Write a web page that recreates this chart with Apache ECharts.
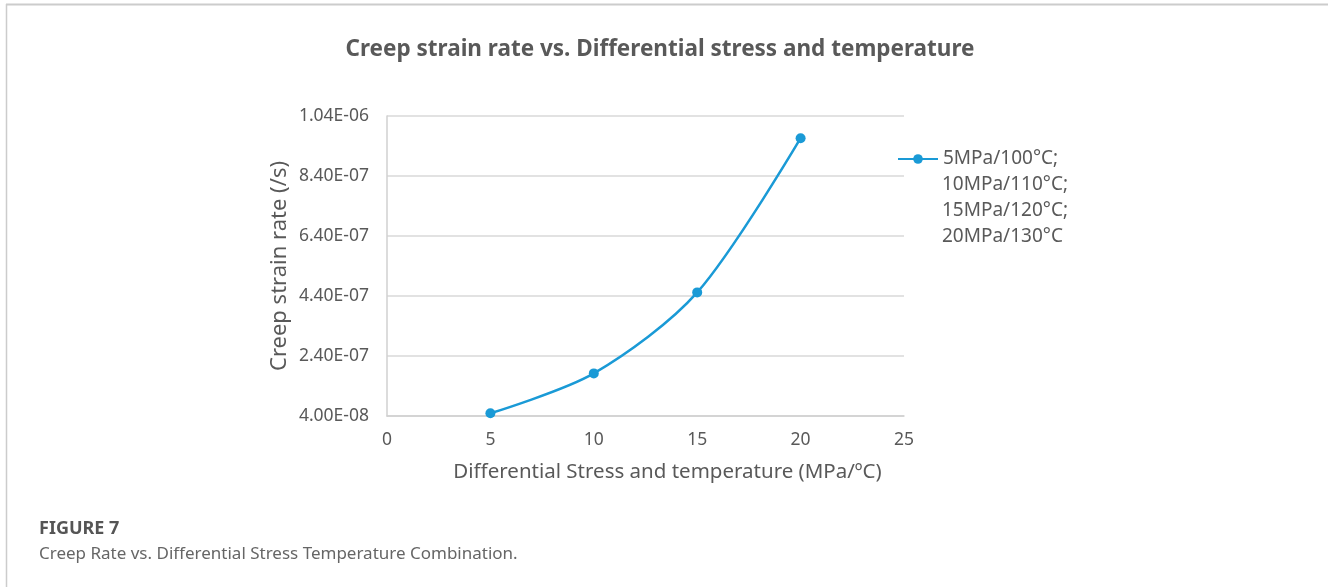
<!DOCTYPE html>
<html>
<head>
<meta charset="utf-8">
<script src="https://cdn.jsdelivr.net/npm/echarts@6/dist/echarts.min.js"></script>
<style>
  html, body { margin: 0; padding: 0; background: #fff; }
  #chart { width: 1328px; height: 587px; }
</style>
</head>
<body>
<div id="chart"></div>
<script>
// ---- data ----
const xValues = [5, 10, 15, 20];
const creepRate = [4.9e-8, 1.82e-7, 4.52e-7, 9.66e-7];
const seriesNameLines = ['5MPa/100°C;', '10MPa/110°C;', '15MPa/120°C;', '20MPa/130°C'];
const seriesName = seriesNameLines.join('\n');
const chartTitle = 'Creep strain rate vs. Differential stress and temperature';
const xAxisTitle = 'Differential Stress and temperature (MPa/ºC)';
const yAxisTitle = 'Creep strain rate (/s)';
const figureLabel = 'FIGURE 7';
const figureCaption = 'Creep Rate vs. Differential Stress Temperature Combination.';
const yMin = 4e-8, yMax = 1.04e-6, yStep = 2e-7;
const xMin = 0, xMax = 25, xStep = 5;

function fmtExp(v) {
  const s = Number(v).toExponential(2).toUpperCase();
  const m = s.match(/^(-?[\d.]+)E([+-])(\d+)$/);
  if (!m) return s;
  const exp = m[3].length < 2 ? '0' + m[3] : m[3];
  return m[1] + 'E' + (m[2] === '-' ? '-' : '+') + exp;
}

const FONT = 'Noto Sans';
const TXT = '#595959';
const LINE = '#1a9ad6';

const chart = echarts.init(document.getElementById('chart'), null, { renderer: 'canvas' });
chart.setOption({
  backgroundColor: '#fff',
  animation: false,
  title: [
    { text: chartTitle, left: 655, top: 33, textAlign: 'center',
      textStyle: { fontFamily: FONT, fontSize: 22.5, fontWeight: 'bold', color: TXT } },
    { text: figureLabel, left: 34, top: 515,
      textStyle: { fontFamily: FONT, fontSize: 18, fontWeight: 'bold', color: '#555' } },
    { text: figureCaption, left: 34, top: 541,
      textStyle: { fontFamily: FONT, fontSize: 17, fontWeight: 'normal', color: '#666' } }
  ],
  graphic: [
    { type: 'line', shape: { x1: 6, y1: 4.5, x2: 1328, y2: 4.5 }, style: { stroke: '#cccccc', lineWidth: 2 } },
    { type: 'line', shape: { x1: 6.5, y1: 4, x2: 6.5, y2: 587 }, style: { stroke: '#cccccc', lineWidth: 1.5 } },
    { type: 'text', left: 942, top: 172,
      style: { text: seriesNameLines.slice(1).join('\n'), fontFamily: FONT, fontSize: 19,
               lineHeight: 26, fill: TXT } }
  ],
  legend: {
    left: 897, top: 146, padding: 0,
    itemWidth: 40, itemHeight: 12, itemGap: 0,
    formatter: function (name) { return name.split('\n')[0]; },
    textStyle: { fontFamily: FONT, fontSize: 19, color: TXT, lineHeight: 26 },
    data: [seriesName]
  },
  grid: { left: 387, right: 424, top: 116, bottom: 171, containLabel: false },
  xAxis: {
    type: 'value', min: xMin, max: xMax, interval: xStep,
    name: xAxisTitle, nameLocation: 'middle', nameGap: 46,
    nameTextStyle: { fontFamily: FONT, fontSize: 20.5, color: TXT, padding: [0, 0, 0, 44] },
    axisLine: { show: true, lineStyle: { color: '#d0d0d0', width: 1.5 } },
    axisTick: { show: false },
    splitLine: { show: false },
    axisLabel: { fontFamily: FONT, fontSize: 17.5, color: TXT, margin: 15 }
  },
  yAxis: {
    type: 'value', min: yMin, max: yMax, interval: yStep,
    name: yAxisTitle, nameLocation: 'middle', nameGap: 96,
    nameTextStyle: { fontFamily: FONT, fontSize: 22, color: TXT },
    axisLine: { show: true, lineStyle: { color: '#d0d0d0', width: 1.5 } },
    axisTick: { show: false },
    splitLine: { show: true, lineStyle: { color: '#d9d9d9', width: 1.5 } },
    axisLabel: { fontFamily: FONT, fontSize: 17.5, color: TXT, margin: 18, formatter: fmtExp }
  },
  series: [{
    name: seriesName,
    type: 'line',
    smooth: 0.3,
    data: xValues.map((x, i) => [x, creepRate[i]]),
    symbol: 'circle', symbolSize: 10,
    lineStyle: { color: LINE, width: 2.5 },
    itemStyle: { color: LINE }
  }]
});
</script>
</body>
</html>
